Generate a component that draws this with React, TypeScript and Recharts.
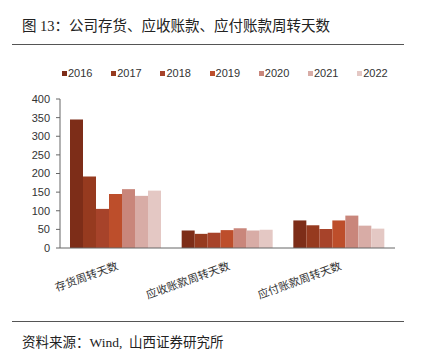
import { BarChart, Bar, XAxis, YAxis, Legend } from "recharts"

const categories = ["存货周转天数", "应收账款周转天数", "应付账款周转天数"]
const years = ["2016", "2017", "2018", "2019", "2020", "2021", "2022"]
const colors = ["#7d2d18", "#963a1f", "#a7432a", "#bd4e2b", "#c9867b", "#d8aca6", "#e4c8c4"]

// one array per year: [inventory, receivables, payables]
const v2016 = [345, 47, 74]
const v2017 = [192, 38, 61]
const v2018 = [105, 41, 51]
const v2019 = [145, 48, 74]
const v2020 = [158, 53, 87]
const v2021 = [140, 47, 60]
const v2022 = [154, 49, 52]
const yTicks = [0, 50, 100, 150, 200, 250, 300, 350, 400]

const series = [v2016, v2017, v2018, v2019, v2020, v2021, v2022]

const data = categories.map((name, i) => {
  const row: Record<string, string | number> = { name }
  years.forEach((y, j) => {
    row[y] = series[j][i]
  })
  return row
})

const sans = "'Liberation Sans', Arial, 'Noto Sans CJK SC', sans-serif"

function CategoryTick(props: any) {
  const { x, y, payload } = props
  return (
    <g transform={`translate(${x + 3},${y + 13}) rotate(-20)`}>
      <text x={0} y={0} textAnchor="end" fontSize={11} fill="#333" fontFamily="'Noto Sans CJK SC', sans-serif">
        {payload.value}
      </text>
    </g>
  )
}

function YearLegend() {
  return (
    <div style={{ position: "relative", width: 424, height: 14 }}>
      {years.map((y, i) => (
        <div
          key={y}
          style={{
            position: "absolute",
            left: 62 + i * 49.2,
            top: 0,
            display: "flex",
            alignItems: "center",
            fontFamily: sans,
            fontSize: 11,
            color: "#333",
            lineHeight: "14px",
          }}
        >
          <span style={{ display: "inline-block", width: 5, height: 5, background: colors[i], marginRight: 1 }} />
          {y}
        </div>
      ))}
    </div>
  )
}

export default function App() {
  return (
    <div style={{ position: "absolute", top: 0, left: 0, width: 424, height: 357, background: "#fff" }}>
      <div
        style={{
          position: "absolute",
          left: 22,
          top: 14,
          fontSize: 14.5,
          color: "#222",
          fontFamily: "'Liberation Serif', 'Noto Sans CJK SC', serif",
          whiteSpace: "nowrap",
        }}
      >
        图 13：公司存货、应收账款、应付账款周转天数
      </div>
      <div style={{ position: "absolute", left: 12, top: 44, width: 392, height: 1, background: "#555" }} />
      <BarChart
        width={424}
        height={357}
        data={data}
        margin={{ top: 85, right: 29, left: 20, bottom: 49 }}
        barCategoryGap={10}
        barGap={0}
      >
        <XAxis
          dataKey="name"
          interval={0}
          height={60}
          tick={<CategoryTick />}
          tickLine={false}
          axisLine={{ stroke: "#666" }}
        />
        <YAxis
          width={40}
          domain={[0, 400]}
          ticks={yTicks}
          interval={0}
          tickSize={4}
          tickMargin={6}
          tick={{ fontSize: 11, fill: "#333", fontFamily: sans }}
          axisLine={{ stroke: "#666" }}
          tickLine={{ stroke: "#666" }}
        />
        <Legend
          verticalAlign="top"
          content={() => <YearLegend />}
          wrapperStyle={{ position: "absolute", top: 66, left: 0, width: 424 }}
        />
        {years.map((y, i) => (
          <Bar key={y} dataKey={y} fill={colors[i]} isAnimationActive={false} />
        ))}
      </BarChart>
      <div style={{ position: "absolute", left: 12, top: 321, width: 392, height: 1, background: "#555" }} />
      <div
        style={{
          position: "absolute",
          left: 22,
          top: 331,
          fontSize: 13.5,
          color: "#222",
          fontFamily: "'Liberation Serif', 'Noto Sans CJK SC', serif",
          whiteSpace: "nowrap",
        }}
      >
        资料来源：Wind,&nbsp;&nbsp;山西证券研究所
      </div>
    </div>
  )
}
